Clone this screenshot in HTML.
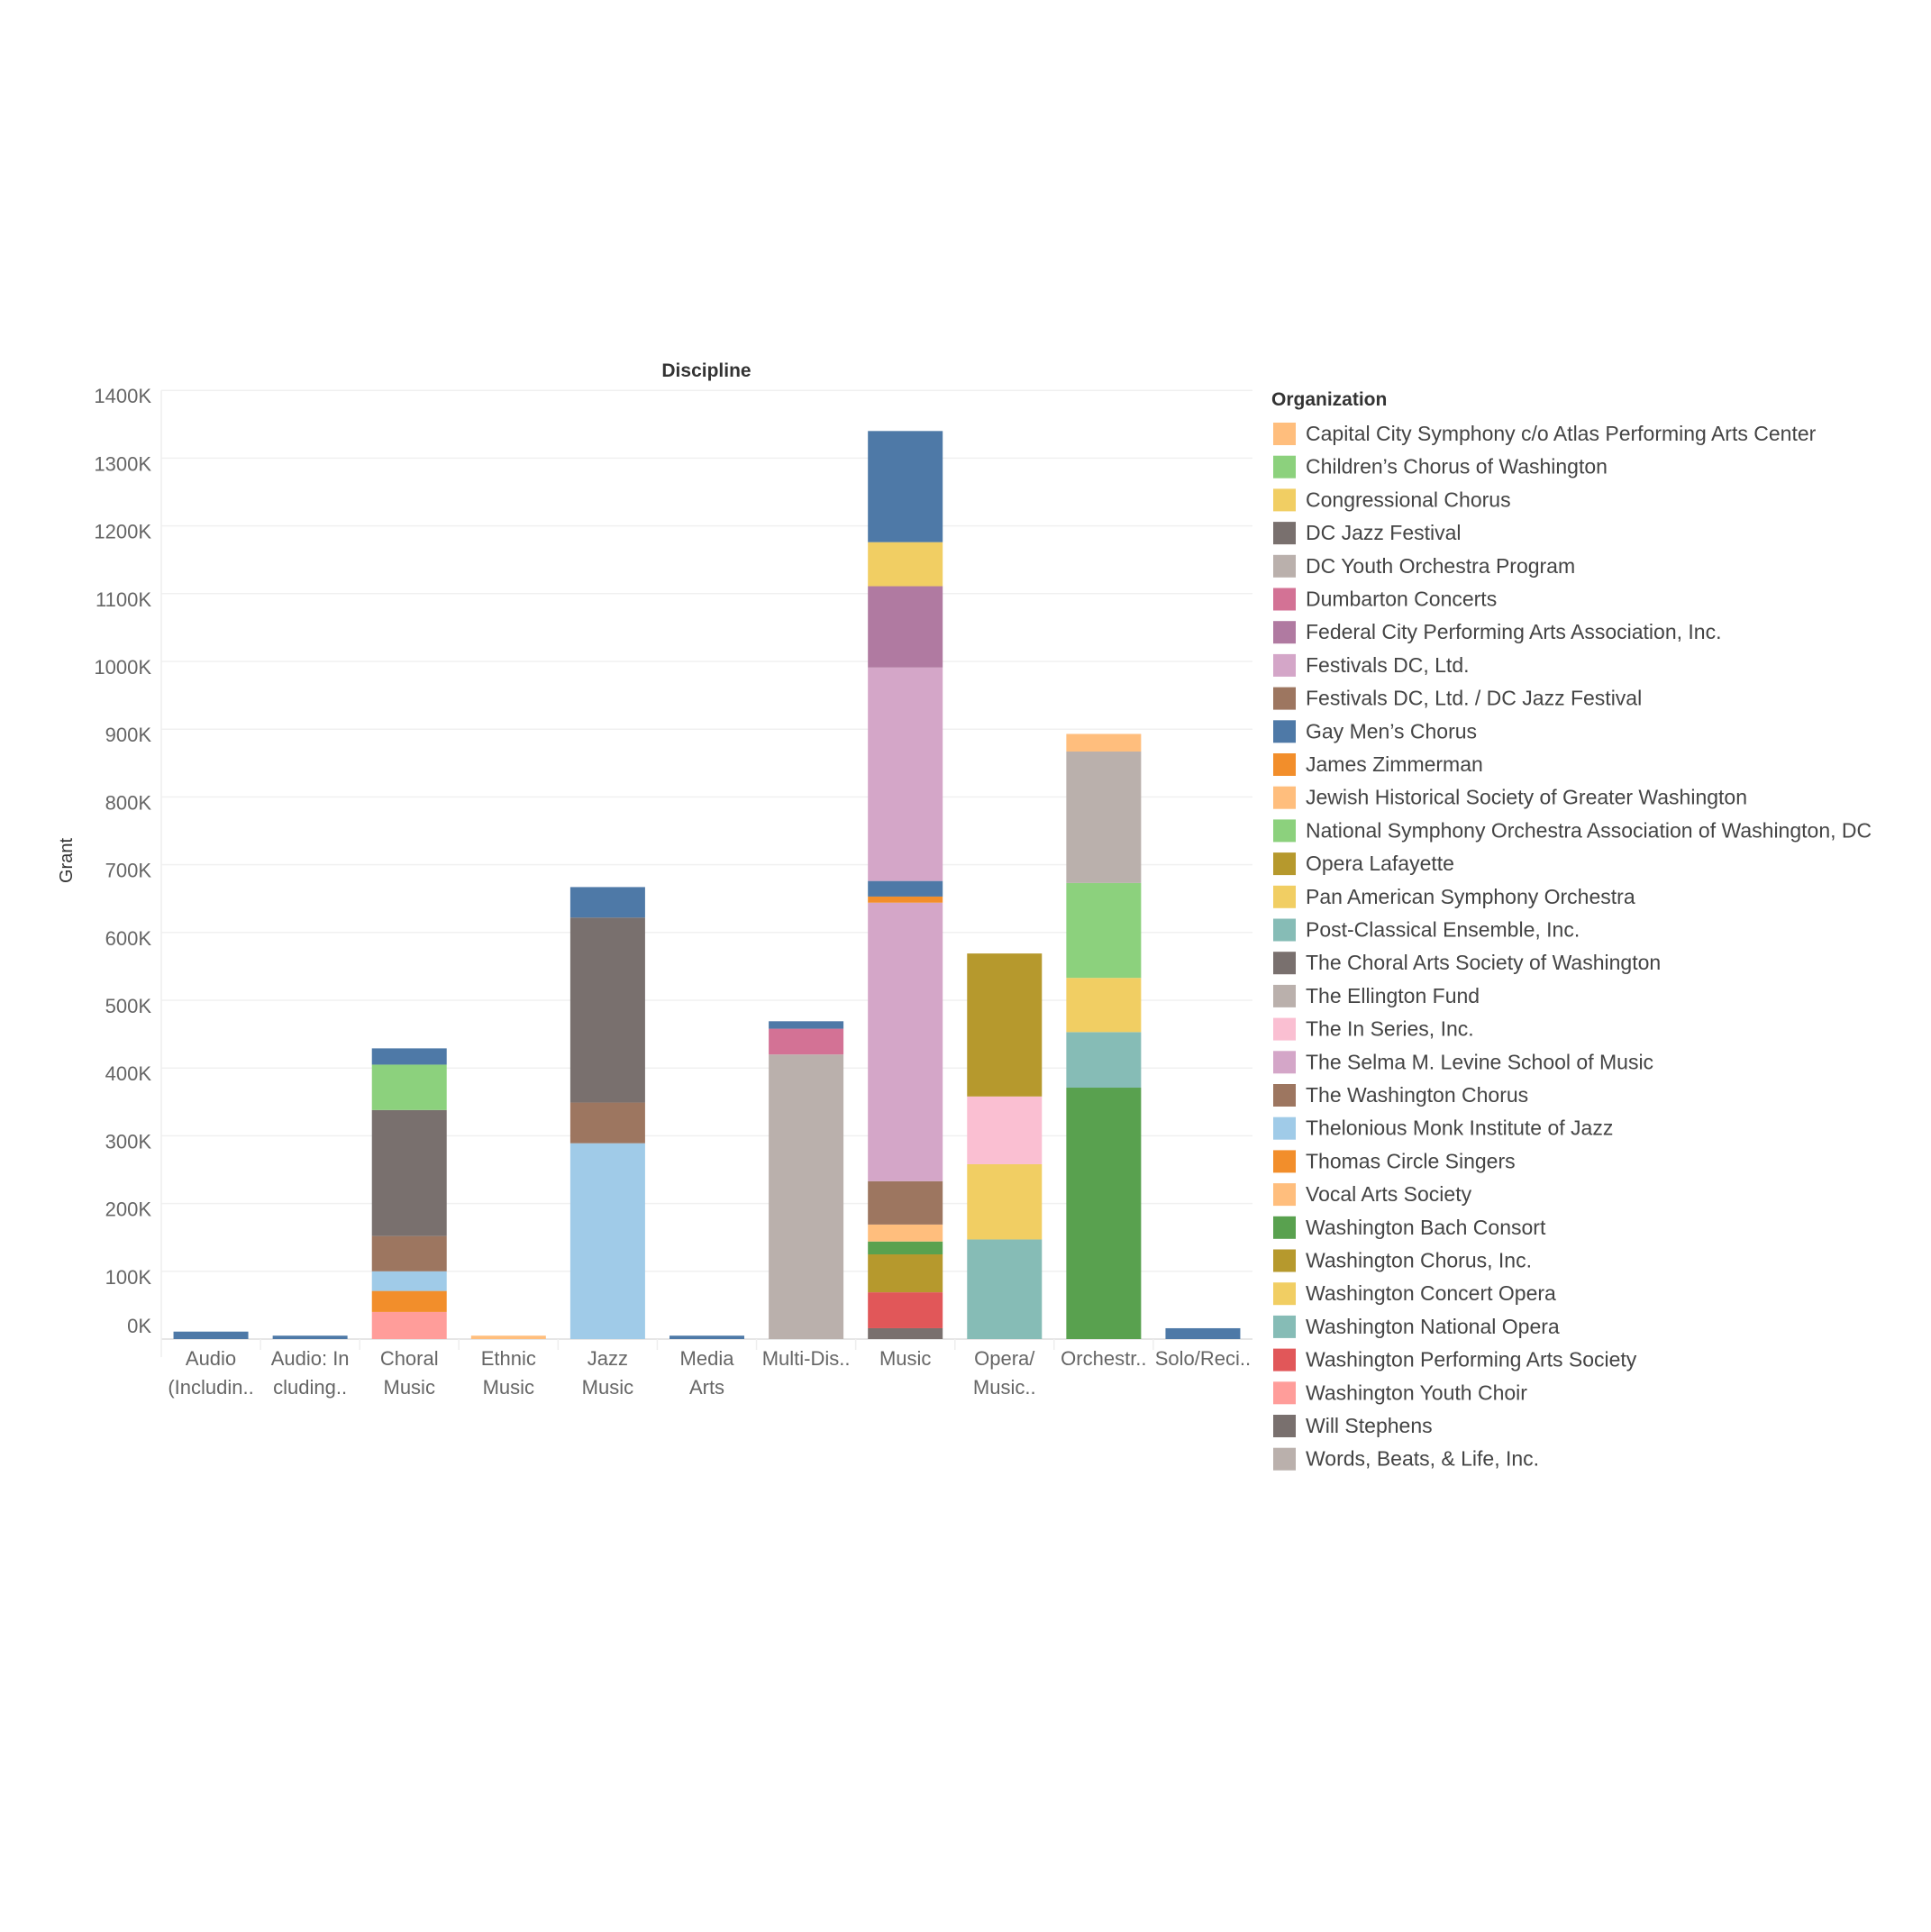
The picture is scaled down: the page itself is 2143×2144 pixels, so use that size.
<!DOCTYPE html>
<html><head><meta charset="utf-8">
<style>
html,body{margin:0;padding:0;background:#fff;}
svg{display:block;font-family:"Liberation Sans",sans-serif;}
</style></head>
<body>
<svg id="chart" width="2143" height="2144" viewBox="0 0 2143 2144" xmlns="http://www.w3.org/2000/svg">
<text x="784" y="418" text-anchor="middle" font-size="21" font-weight="bold" fill="#333">Discipline</text>
<text transform="translate(80,955) rotate(-90)" text-anchor="middle" font-size="20" fill="#333">Grant</text>
<g id="grid"></g><g id="bars"></g><g id="xlabels"></g><g id="ylabels"></g>
<text x="1411" y="450" font-size="21" font-weight="bold" fill="#333">Organization</text>
<g id="legend"></g>
</svg>
<script>
const categories = ["Audio (Includin..","Audio: In cluding..","Choral Music","Ethnic Music","Jazz Music","Media Arts","Multi-Dis..","Music","Opera/ Music..","Orchestr..","Solo/Reci.."];
const catLine1 = ["Audio","Audio: In","Choral","Ethnic","Jazz","Media","Multi-Dis..","Music","Opera/","Orchestr..","Solo/Reci.."];
const catLine2 = ["(Includin..","cluding..","Music","Music","Music","Arts","","","Music..","",""];
const orgs = ["Capital City Symphony c/o Atlas Performing Arts Center","Children’s Chorus of Washington","Congressional Chorus","DC Jazz Festival","DC Youth Orchestra Program","Dumbarton Concerts","Federal City Performing Arts Association, Inc.","Festivals DC, Ltd.","Festivals DC, Ltd. / DC Jazz Festival","Gay Men’s Chorus","James Zimmerman","Jewish Historical Society of Greater Washington","National Symphony Orchestra Association of Washington, DC","Opera Lafayette","Pan American Symphony Orchestra","Post-Classical Ensemble, Inc.","The Choral Arts Society of Washington","The Ellington Fund","The In Series, Inc.","The Selma M. Levine School of Music","The Washington Chorus","Thelonious Monk Institute of Jazz","Thomas Circle Singers","Vocal Arts Society","Washington Bach Consort","Washington Chorus, Inc.","Washington Concert Opera","Washington National Opera","Washington Performing Arts Society","Washington Youth Choir","Will Stephens","Words, Beats, & Life, Inc."];
const orgColors = ["#FFBE7D","#8CD17D","#F1CE63","#79706E","#BAB0AC","#D37295","#B07AA1","#D4A6C8","#9D7660","#4E79A7","#F28E2B","#FFBE7D","#8CD17D","#B6992D","#F1CE63","#86BCB6","#79706E","#BAB0AC","#FABFD2","#D4A6C8","#9D7660","#A0CBE8","#F28E2B","#FFBE7D","#59A14F","#B6992D","#F1CE63","#86BCB6","#E15759","#FF9D9A","#79706E","#BAB0AC"];
const segOrgs = [
 ["Gay Men’s Chorus"],
 ["Gay Men’s Chorus"],
 ["Washington Youth Choir","Thomas Circle Singers","Thelonious Monk Institute of Jazz","The Washington Chorus","The Choral Arts Society of Washington","Children’s Chorus of Washington","Gay Men’s Chorus"],
 ["Vocal Arts Society"],
 ["Thelonious Monk Institute of Jazz","Festivals DC, Ltd. / DC Jazz Festival","DC Jazz Festival","Gay Men’s Chorus"],
 ["Gay Men’s Chorus"],
 ["Words, Beats, & Life, Inc.","Dumbarton Concerts","Gay Men’s Chorus"],
 ["Will Stephens","Washington Performing Arts Society","Washington Chorus, Inc.","Washington Bach Consort","Vocal Arts Society","The Washington Chorus","The Selma M. Levine School of Music","Thomas Circle Singers","Gay Men’s Chorus","Festivals DC, Ltd.","Federal City Performing Arts Association, Inc.","Pan American Symphony Orchestra","Gay Men’s Chorus"],
 ["Washington National Opera","Washington Concert Opera","The In Series, Inc.","Opera Lafayette"],
 ["Washington Bach Consort","Post-Classical Ensemble, Inc.","Pan American Symphony Orchestra","National Symphony Orchestra Association of Washington, DC","The Ellington Fund","Capital City Symphony c/o Atlas Performing Arts Center"],
 ["Gay Men’s Chorus"]
];
const segValues = [
 [11],[5],
 [40,31,29,52,186,67,24],
 [5],
 [289,60,273,45],
 [5],
 [420,38,11],
 [16,53,56,19,25,64,411,9,23,315,120,65,164],
 [147,111,100,211],
 [371,82,80,140,194,26],
 [16]
];
const yTicks = [0,100,200,300,400,500,600,700,800,900,1000,1100,1200,1300,1400];
const yTickLabels = ["0K","100K","200K","300K","400K","500K","600K","700K","800K","900K","1000K","1100K","1200K","1300K","1400K"];

const NS="http://www.w3.org/2000/svg";
const X0=179,X1=1390,Y0=1486,PER100=75.2;
const colW=(X1-X0)/categories.length, barW=83;
const yScale=v=>Y0-v*PER100/100;
const xScale=i=>X0+colW*i+colW/2;
function mk(t,a,p){const e=document.createElementNS(NS,t);for(const k in a)e.setAttribute(k,a[k]);p.appendChild(e);return e;}
const grid=document.getElementById('grid'),bars=document.getElementById('bars'),xl=document.getElementById('xlabels'),yl=document.getElementById('ylabels'),lg=document.getElementById('legend');
yTicks.forEach((t,i)=>{
 const l=mk('line',{x1:X0,x2:X1,y1:yScale(t),y2:yScale(t),stroke:t===0?'#ddd':'#f0f0f0','stroke-width':1.5},grid);
 
 
 const tx=mk('text',{x:168,y:t===0?yScale(t)-7:yScale(t)+14,'text-anchor':'end','font-size':22,fill:'#666'},yl);
 tx.textContent=yTickLabels[i];
 
 
});
const ax=mk('line',{x1:X0,x2:X0,y1:yScale(1400),y2:Y0+20,stroke:'#eee','stroke-width':1.5},grid);


for(let i=1;i<categories.length;i++){
 const d=mk('line',{x1:X0+colW*i,x2:X0+colW*i,y1:Y0,y2:Y0+12,stroke:'#eee','stroke-width':1.5},grid);
 
 
}
categories.forEach((c,i)=>{
 let cum=0;
 segOrgs[i].forEach((o,j)=>{
  const v=segValues[i][j];
  const r=mk('rect',{x:xScale(i)-barW/2,y:yScale(cum+v),width:barW,height:yScale(cum)-yScale(cum+v),fill:orgColors[orgs.indexOf(o)]},bars);
  
  
  cum+=v;
 });
 const t1=mk('text',{x:xScale(i),y:1515,'text-anchor':'middle','font-size':22,fill:'#666'},xl);
 t1.textContent=catLine1[i];
 
 
 if(catLine2[i]){
  const t2=mk('text',{x:xScale(i),y:1547,'text-anchor':'middle','font-size':22,fill:'#666'},xl);
  t2.textContent=catLine2[i];
  
  
 }
});
orgs.forEach((o,i)=>{
 const y=481+i*36.7;
 const g=mk('g',{},lg);
 
 
 mk('rect',{x:1413,y:y-12,width:25,height:25,fill:orgColors[i]},g);
 const t=mk('text',{x:1449,y:y+8,'font-size':23,fill:'#444'},g);
 t.textContent=o;
});
</script>
</body></html>
